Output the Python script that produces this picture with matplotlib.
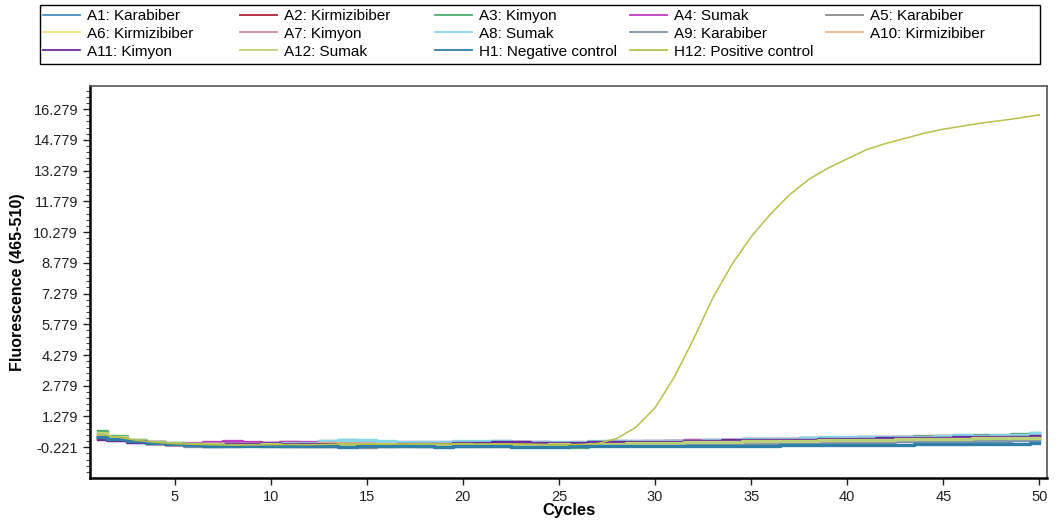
import numpy as np
import matplotlib
matplotlib.use("Agg")
import matplotlib.pyplot as plt
from matplotlib.ticker import FixedLocator
from matplotlib.patches import Rectangle

plt.rcParams['font.family'] = ['Liberation Sans', 'DejaVu Sans']

# fluorescence values (465-510) per cycle
A1 = [0.35, 0.22, 0.10, 0.02, -0.05, -0.08, -0.10, -0.09, -0.08, -0.06,
      -0.05, -0.03, 0.02, 0.05, 0.04, 0.02, 0.00, -0.01, 0.00, 0.02,
      0.05, 0.06, 0.04, 0.02, 0.00, -0.02, 0.03, 0.06, 0.05, 0.04,
      0.06, 0.08, 0.10, 0.09, 0.12, 0.14, 0.15, 0.17, 0.18, 0.20,
      0.22, 0.24, 0.25, 0.27, 0.30, 0.31, 0.33, 0.35, 0.38, 0.42]
A2 = [0.28, 0.18, 0.08, 0.00, -0.06, -0.10, -0.12, -0.10, -0.05, 0.00,
      0.02, 0.00, -0.04, -0.06, -0.05, -0.02, -0.02, -0.04, -0.03, 0.00,
      -0.02, -0.04, -0.05, -0.04, -0.02, -0.05, -0.03, 0.00, -0.02, -0.04,
      -0.02, 0.00, 0.02, 0.05, 0.04, 0.06, 0.08, 0.10, 0.11, 0.12,
      0.10, 0.12, 0.15, 0.17, 0.18, 0.20, 0.22, 0.23, 0.25, 0.26]
A3 = [0.55, 0.35, 0.15, 0.05, -0.02, -0.05, -0.06, -0.08, -0.10, -0.12,
      -0.10, -0.05, 0.10, 0.12, 0.08, 0.04, 0.00, -0.02, -0.04, -0.05,
      -0.08, -0.10, -0.12, -0.15, -0.18, -0.20, -0.08, 0.02, 0.05, 0.08,
      0.10, 0.12, 0.14, 0.15, 0.16, 0.18, 0.20, 0.22, 0.24, 0.25,
      0.26, 0.28, 0.30, 0.32, 0.34, 0.36, 0.38, 0.40, 0.43, 0.48]
A4 = [0.30, 0.20, 0.09, 0.01, -0.04, -0.02, 0.05, 0.06, 0.02, 0.00,
      0.03, 0.02, 0.00, -0.03, -0.02, 0.00, 0.03, 0.04, 0.02, 0.00,
      0.01, 0.03, 0.02, 0.00, -0.01, 0.00, 0.02, 0.04, 0.06, 0.08,
      0.10, 0.12, 0.13, 0.15, 0.17, 0.18, 0.20, 0.22, 0.23, 0.24,
      0.26, 0.28, 0.30, 0.29, 0.31, 0.33, 0.32, 0.34, 0.36, 0.38]
A5 = [0.25, 0.15, 0.05, -0.02, -0.08, -0.12, -0.14, -0.13, -0.12, -0.14,
      -0.16, -0.15, -0.14, -0.18, -0.20, -0.18, -0.16, -0.15, -0.13, -0.12,
      -0.14, -0.16, -0.15, -0.12, -0.10, -0.08, -0.06, -0.05, -0.07, -0.10,
      -0.12, -0.08, -0.04, -0.02, 0.00, 0.02, 0.04, 0.05, 0.06, 0.08,
      0.10, 0.12, 0.14, 0.15, 0.16, 0.15, 0.14, 0.16, 0.18, 0.20]
A6 = [0.40, 0.25, 0.10, 0.00, -0.06, -0.08, -0.07, -0.06, -0.08, -0.10,
      -0.12, -0.14, -0.12, -0.10, -0.08, -0.06, -0.05, -0.07, -0.10, -0.12,
      -0.10, -0.08, -0.05, -0.02, -0.04, -0.06, -0.04, -0.02, 0.00, -0.02,
      0.00, 0.02, 0.00, 0.02, 0.04, 0.06, 0.05, 0.04, 0.06, 0.08,
      0.10, 0.09, 0.11, 0.13, 0.15, 0.14, 0.16, 0.18, 0.20, 0.22]
A7 = [0.32, 0.20, 0.08, 0.00, -0.05, -0.07, -0.05, -0.04, -0.06, -0.08,
      -0.06, -0.04, -0.02, 0.00, 0.02, 0.00, -0.02, -0.04, -0.02, 0.00,
      0.02, 0.04, 0.03, 0.02, 0.00, 0.02, 0.04, 0.06, 0.05, 0.04,
      0.06, 0.08, 0.10, 0.12, 0.14, 0.15, 0.16, 0.17, 0.19, 0.21,
      0.22, 0.24, 0.26, 0.27, 0.28, 0.29, 0.30, 0.31, 0.33, 0.35]
A8 = [0.38, 0.24, 0.12, 0.03, -0.03, -0.06, -0.08, -0.07, -0.05, -0.04,
      -0.02, 0.00, 0.08, 0.15, 0.12, 0.08, 0.05, 0.03, 0.04, 0.06,
      0.08, 0.07, 0.05, 0.03, 0.02, 0.04, 0.06, 0.08, 0.07, 0.06,
      0.08, 0.10, 0.12, 0.14, 0.16, 0.18, 0.20, 0.22, 0.26, 0.28,
      0.27, 0.26, 0.28, 0.30, 0.34, 0.36, 0.35, 0.37, 0.40, 0.46]
A9 = [0.27, 0.16, 0.06, -0.02, -0.08, -0.14, -0.16, -0.15, -0.13, -0.12,
      -0.14, -0.15, -0.17, -0.18, -0.16, -0.14, -0.13, -0.15, -0.17, -0.15,
      -0.13, -0.12, -0.14, -0.15, -0.16, -0.14, -0.12, -0.10, -0.11, -0.12,
      -0.10, -0.08, -0.07, -0.06, -0.04, -0.02, 0.00, 0.01, 0.02, 0.03,
      0.04, 0.05, 0.06, 0.08, 0.09, 0.10, 0.08, 0.10, 0.11, 0.12]
A10 = [0.33, 0.21, 0.09, 0.01, -0.04, -0.06, -0.08, -0.10, -0.11, -0.09,
       -0.07, -0.05, -0.03, -0.05, -0.07, -0.08, -0.06, -0.04, -0.05, -0.07,
       -0.06, -0.04, -0.02, -0.03, -0.05, -0.03, -0.01, 0.01, 0.02, 0.03,
       0.05, 0.06, 0.07, 0.08, 0.10, 0.12, 0.13, 0.14, 0.15, 0.17,
       0.18, 0.19, 0.20, 0.21, 0.22, 0.24, 0.25, 0.26, 0.27, 0.28]
A11 = [0.20, 0.12, 0.05, -0.01, -0.05, -0.07, -0.06, -0.05, -0.04, -0.03,
       -0.05, -0.07, -0.08, -0.10, -0.12, -0.10, -0.08, -0.06, -0.04, -0.02,
       0.00, 0.02, 0.01, 0.00, -0.02, 0.00, 0.02, 0.04, 0.03, 0.02,
       0.04, 0.06, 0.08, 0.12, 0.14, 0.13, 0.12, 0.14, 0.16, 0.18,
       0.20, 0.22, 0.21, 0.23, 0.25, 0.27, 0.29, 0.28, 0.30, 0.32]
A12 = [0.45, 0.30, 0.14, 0.04, -0.02, -0.05, -0.07, -0.09, -0.10, -0.08,
       -0.10, -0.12, -0.10, -0.08, -0.06, -0.08, -0.10, -0.11, -0.09, -0.07,
       -0.09, -0.11, -0.12, -0.10, -0.08, -0.10, -0.06, -0.04, -0.03, -0.02,
       0.00, 0.02, 0.03, 0.04, 0.06, 0.07, 0.08, 0.10, 0.11, 0.12,
       0.14, 0.15, 0.16, 0.18, 0.19, 0.20, 0.21, 0.22, 0.24, 0.25]
H1 = [0.30, 0.18, 0.07, -0.01, -0.07, -0.12, -0.15, -0.16, -0.15, -0.14,
      -0.15, -0.16, -0.18, -0.19, -0.18, -0.17, -0.16, -0.18, -0.19, -0.18,
      -0.17, -0.18, -0.19, -0.20, -0.19, -0.18, -0.17, -0.16, -0.17, -0.18,
      -0.17, -0.16, -0.15, -0.16, -0.15, -0.14, -0.13, -0.12, -0.12, -0.11,
      -0.10, -0.10, -0.09, -0.08, -0.08, -0.07, -0.06, -0.05, -0.04, -0.02]
H12 = [0.42, 0.28, 0.12, 0.02, -0.05, -0.08, -0.10, -0.12, -0.11, -0.10,
       -0.09, -0.10, -0.08, -0.06, -0.07, -0.08, -0.06, -0.05, -0.06, -0.07,
       -0.06, -0.05, -0.06, -0.08, -0.10, -0.09, -0.04, 0.20, 0.75, 1.70,
       3.20, 5.05, 7.05, 8.70, 10.05, 11.15, 12.10, 12.85, 13.40, 13.85,
       14.30, 14.60, 14.85, 15.10, 15.30, 15.45, 15.60, 15.72, 15.85, 16.00]

labels = ["A1: Karabiber", "A2: Kirmizibiber", "A3: Kimyon", "A4: Sumak",
          "A5: Karabiber", "A6: Kirmizibiber", "A7: Kimyon", "A8: Sumak",
          "A9: Karabiber", "A10: Kirmizibiber", "A11: Kimyon", "A12: Sumak",
          "H1: Negative control", "H12: Positive control"]
series = [A1, A2, A3, A4, A5, A6, A7, A8, A9, A10, A11, A12, H1, H12]
colors = ["#4a8fc4", "#b0203a", "#4fb06e", "#c03cc0", "#8c8c8c", "#f2e27a",
          "#d98a9c", "#86d6ea", "#7d95ad", "#f2b48e", "#6a2c9c", "#bcd07a",
          "#2f7fa6", "#b8bf4a"]

yticks = [-0.221, 1.279, 2.779, 4.279, 5.779, 7.279, 8.779, 10.279,
          11.779, 13.279, 14.779, 16.279]
xticks = [5, 10, 15, 20, 25, 30, 35, 40, 45, 50]

fig = plt.figure(figsize=(10.57, 5.22), dpi=100)
ax = fig.add_axes([0.085, 0.084, 0.906, 0.751])

handles = []
for vals, lab, col in zip(series, labels, colors):
    cyc = np.arange(1, len(vals) + 1)
    if lab.startswith("H12"):
        h, = ax.plot(cyc, vals, color=col, lw=1.1, label=lab, zorder=3)
    else:
        h, = ax.plot(cyc, vals, color=col, lw=2.4, label=lab,
                     drawstyle='steps-mid')
    handles.append(h)

ax.set_xlim(0.59, 50.42)
ax.set_ylim(-1.73, 17.40)
ax.set_xticks(xticks)
ax.set_yticks(yticks)
ax.set_yticklabels(["%.3f" % v for v in yticks])
minor = [yticks[0] + 0.3 * k for k in range(-4, 60)]
ax.yaxis.set_minor_locator(FixedLocator(minor))
ax.tick_params(axis='both', direction='out', length=5, width=1,
               labelsize=10.5, colors='#222222', top=False, right=False)
ax.tick_params(axis='y', which='minor', length=3, width=0.8, colors='#444444')

for side in ['left', 'bottom']:
    ax.spines[side].set_linewidth(1.8)
    ax.spines[side].set_color('black')
for side in ['top', 'right']:
    ax.spines[side].set_linewidth(1.2)
    ax.spines[side].set_color('#555555')

ax.set_xlabel("Cycles", fontsize=12, fontweight='bold', labelpad=-1)
ax.set_ylabel("Fluorescence (465-510)", fontsize=11.5, fontweight='bold',
              labelpad=6)

# legend: framed box with five equal-width columns, filled row by row
fig.add_artist(Rectangle((40 / 1057, 1 - 64 / 522), 1000 / 1057, 59 / 522,
                         transform=fig.transFigure, facecolor='white',
                         edgecolor='black', lw=1.0))
col_x = [43, 240, 435, 630, 826]
for c, x in enumerate(col_x):
    idx = list(range(c, len(labels), 5))
    lg = fig.legend([handles[i] for i in idx], [labels[i] for i in idx],
                    loc='upper left', bbox_to_anchor=(x / 1057, 1 - 9 / 522),
                    frameon=False, fontsize=11, handlelength=2.4,
                    handletextpad=0.45, borderpad=0, borderaxespad=0,
                    labelspacing=0.25)
    for lh in lg.get_lines():
        lh.set_linewidth(1.3)
        lh.set_drawstyle('default')

fig.savefig("out.png", dpi=100)
